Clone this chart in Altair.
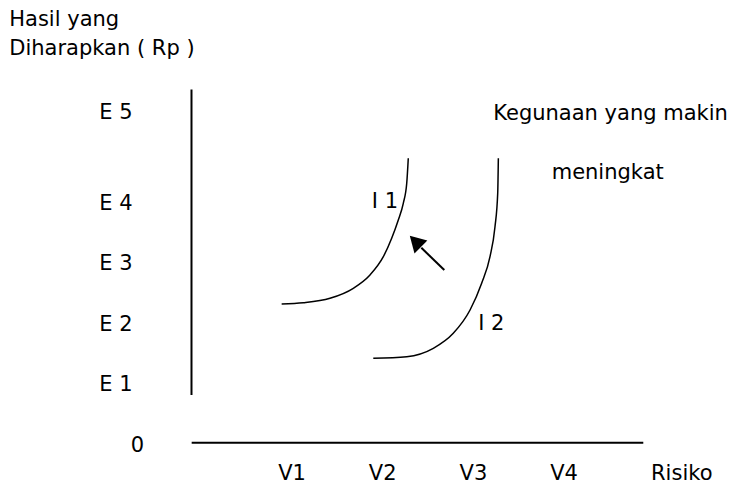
import altair as alt
import pandas as pd

# ---- data (risk units: V1..V4 = 1..4 ; expected return units: E1..E4 = 1..4) ----
i1_risk = [0.886, 1.125, 1.419, 1.676, 1.860, 2.007, 2.099, 2.172, 2.227, 2.265, 2.282]
i1_ret = [2.326, 2.347, 2.420, 2.585, 2.805, 3.107, 3.412, 3.714, 3.990, 4.321, 4.734]
i2_risk = [1.896, 2.265, 2.558, 2.778, 2.963, 3.091, 3.183, 3.238, 3.268, 3.275]
i2_ret = [1.428, 1.455, 1.593, 1.841, 2.226, 2.668, 3.107, 3.603, 4.155, 4.734]

e_labels = ["E 1", "E 2", "E 3", "E 4", "E 5"]
e_values = [1, 2, 3, 4, 5.5]
v_labels = ["V1", "V2", "V3", "V4"]
v_values = [1, 2, 3, 4]

curve_labels = ["I 1", "I 2"]
curve_label_x = [2.025, 3.198]
curve_label_y = [4.03, 2.006]

# axis lines: vertical (return) axis and horizontal (risk) axis
axis_x = [-0.108, -0.106]
axis_y = [0.82, 0.033]
axis_x2 = [-0.108, 4.873]
axis_y2 = [5.87, 0.033]

# arrow (shift of utility)
arrow_tail = (2.679, 2.888)
arrow_base = (2.426, 3.254)
arrow_head = (2.360, 3.360)

FONT = "DejaVu Sans"
FS = 21

# plot area 724 x 478 px, 90.7 px per risk unit, 60.5 px per return unit
xs = alt.Scale(domain=[-2.131, 5.851], nice=False, zero=False)
ys = alt.Scale(domain=[-0.683, 7.218], nice=False, zero=False)

def X(f="x"):
    return alt.X(f"{f}:Q", scale=xs, axis=None)

def Y(f="y"):
    return alt.Y(f"{f}:Q", scale=ys, axis=None)

curves = pd.DataFrame(
    [{"curve": "I1", "i": i, "x": a, "y": b} for i, (a, b) in enumerate(zip(i1_risk, i1_ret))]
    + [{"curve": "I2", "i": i, "x": a, "y": b} for i, (a, b) in enumerate(zip(i2_risk, i2_ret))]
)
curve_layer = alt.Chart(curves).mark_line(
    interpolate="monotone", color="black", strokeWidth=1.5
).encode(x=X(), y=Y(), detail="curve:N", order="i:Q")

axes_df = pd.DataFrame({"x": axis_x, "y": axis_y, "x2": axis_x2, "y2": axis_y2})
axes_layer = alt.Chart(axes_df).mark_rule(color="black", strokeWidth=2).encode(
    x=X(), y=Y(), x2="x2:Q", y2="y2:Q"
)

shaft_df = pd.DataFrame({"x": [arrow_tail[0]], "y": [arrow_tail[1]],
                         "x2": [arrow_base[0]], "y2": [arrow_base[1]]})
shaft_layer = alt.Chart(shaft_df).mark_rule(color="black", strokeWidth=2).encode(
    x=X(), y=Y(), x2="x2:Q", y2="y2:Q"
)
head_df = pd.DataFrame({"x": [arrow_head[0]], "y": [arrow_head[1]]})
head_layer = alt.Chart(head_df).mark_point(
    shape="triangle-up", filled=True, size=330, angle=315, color="black", opacity=1
).encode(x=X(), y=Y())

def text_layer(labels, xv, yv, align):
    df = pd.DataFrame({"t": labels, "x": xv, "y": yv})
    return alt.Chart(df).mark_text(
        font=FONT, fontSize=FS, color="black", align=align, baseline="middle", dy=1
    ).encode(x=X(), y=Y(), text="t:N")

e_text = text_layer(e_labels, [-1.125] * len(e_labels), e_values, "left")
zero_text = text_layer(["0"], [-0.703], [0], "center")
v_text = text_layer(v_labels, v_values, [-0.47] * len(v_labels), "center")
risk_text = text_layer(["Risiko"], [5.297], [-0.47], "center")
head_text = text_layer(["Hasil yang", "Diharapkan ( Rp )"], [-2.117, -2.117], [7.03, 6.552], "left")
note_text = text_layer(["Kegunaan yang makin", "meningkat"], [3.219, 3.863], [5.49, 4.499], "left")
curve_text = text_layer(curve_labels, curve_label_x, curve_label_y, "center")

chart = alt.layer(
    axes_layer, curve_layer, shaft_layer, head_layer,
    e_text, zero_text, v_text, risk_text, head_text, note_text, curve_text
).properties(
    width=724, height=478,
    autosize=alt.AutoSizeParams(type="none"),
    padding=0,
    background="white",
).configure_view(stroke=None)

chart.save("out.html", embed_options={"renderer": "svg", "actions": False})
